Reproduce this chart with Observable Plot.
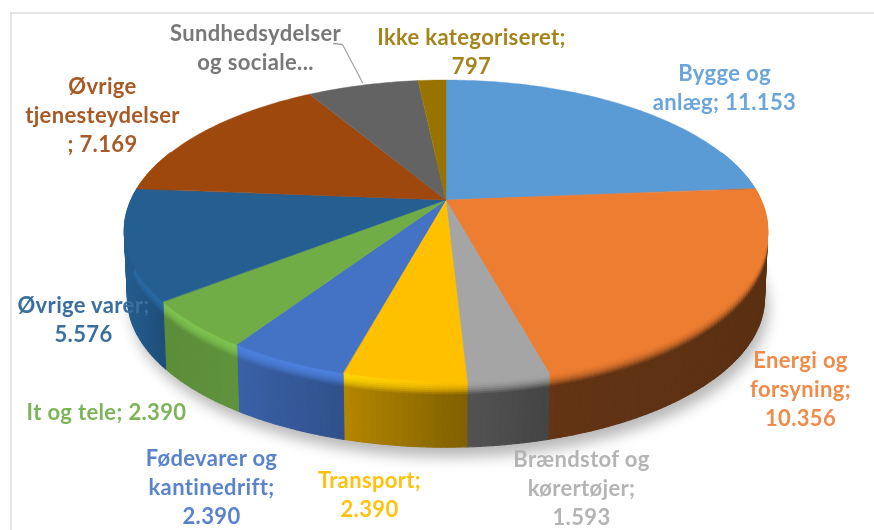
<!DOCTYPE html>
<html><head><meta charset="utf-8">
<style>
html,body{margin:0;padding:0;background:#fff;overflow:hidden}
svg{display:block}
.soft{filter:blur(7px)}
.pie{filter:blur(.6px)}
.labels{filter:blur(.45px);letter-spacing:.35px}
</style>
<script src="https://cdn.jsdelivr.net/npm/d3@7"></script>
<script src="https://cdn.jsdelivr.net/npm/@observablehq/plot@0.6"></script>
</head><body><div id="chart"></div>
<script>
// Data, clockwise from twelve o'clock
const categories = ["Bygge og anlæg","Energi og forsyning","Brændstof og kørertøjer","Transport","Fødevarer og kantinedrift","It og tele","Øvrige varer","Øvrige tjenesteydelser","Sundhedsydelser og sociale...","Ikke kategoriseret"];
const values = [11153,10356,1593,2390,2390,2390,5576,7169,3186,797];
const sliceColors = ["#5B9BD5","#ED7D31","#A5A5A5","#FFC000","#4472C4","#70AD47","#255E91","#9E480E","#636363","#997300"];
const labelTexts = ["Bygge og\nanlæg; 11.153","Energi og\nforsyning;\n10.356","Brændstof og\nkørertøjer;\n1.593","Transport;\n2.390","Fødevarer og\nkantinedrift;\n2.390","It og tele; 2.390","Øvrige varer;\n5.576","Øvrige\ntjenesteydelser\n; 7.169","Sundhedsydelser\nog sociale...","Ikke kategoriseret;\n797"];
const labelColors = ["#6BA5DA","#EF8B4B","#B4B4B4","#FFC20F","#5A83CC","#7DB45A","#3A6E9F","#A85A26","#787878","#A5841B"];

// Layout of the picture
const labelX = [724,800,581,369,211,106,83,102,255,471];
const labelY = [86,387,486,493,485,410,318,113,46,50];
const cx = 446, cy = 200, rx = 315, ry = 144.3, persp = -0.2026;
const drop = 68, shrink = 0.99;

const total = d3.sum(values);
const toRad = d => d * Math.PI / 180;
function rim(theta, t = 0) {
  const X = Math.sin(theta), Y = -Math.cos(theta), w = 1 + persp * Y;
  const s = 1 + (shrink - 1) * t;
  return [cx + s * rx * X / w, cy + drop * t + s * ry * Y / w];
}
let acc = 0;
const slices = values.map((v, i) => {
  const a0 = acc / total * 2 * Math.PI; acc += v;
  return {i, a0, a1: acc / total * 2 * Math.PI, color: sliceColors[i]};
});

// Shading of the wall, read along the picture's x
const shade = d3.scaleLinear([122,165,240,346,467,546,770],[1,.82,.85,.7,.5,.42,.38]).clamp(true);
const glow = d3.scaleLinear([340,450],[1.12,1]).clamp(true);
const scaleColor = (c, f) => { const r = d3.rgb(c); return d3.rgb(Math.min(255,r.r*f),Math.min(255,r.g*f),Math.min(255,r.b*f)); };
function wallColor(base, x, t) {
  const side = scaleColor(base, shade(x));
  if (t >= .2) return side.formatHex();
  const u = t / .2;
  return d3.rgb(d3.interpolateRgb(scaleColor(base, glow(x)), side)(u * u)).formatHex();
}

// Top face wedges and wall strips
const faceRows = [], wallRows = [], shadowRows = [];
const bands = [0,.03,.06,.09,.12,.15,.18,.21,1];
let id = 0;
for (const s of slices) {
  const n = Math.max(2, Math.ceil((s.a1 - s.a0) / toRad(1)));
  for (let k = 0; k <= n; k++) {
    const [x, y] = rim(s.a0 + (s.a1 - s.a0) * k / n);
    faceRows.push({z: s.i, x1: cx, y1: cy, x2: x, y2: y, fill: s.color});
  }
  const m = Math.max(1, Math.ceil((s.a1 - s.a0) / toRad(1)));
  for (let k = 0; k < m; k++) {
    const ta = s.a0 + (s.a1 - s.a0) * k / m, tb = s.a0 + (s.a1 - s.a0) * (k + 1) / m;
    if (Math.cos((ta + tb) / 2) > 0.35) continue;
    for (let b = 0; b < bands.length - 1; b++) {
      const t0 = bands[b], t1 = bands[b + 1];
      const c = wallColor(s.color, rim((ta + tb) / 2)[0], t0);
      id++;
      for (const th of [ta, tb]) {
        const [x1, y1] = rim(th, t0), [x2, y2] = rim(th, t1);
        wallRows.push({z: id, x1, y1, x2, y2, fill: c});
      }
    }
  }
}
for (let d = 0; d <= 360; d += 2) {
  const [x, y] = rim(toRad(d), 1);
  shadowRows.push({x1: cx, y1: cy + drop + 10, x2: x + 4, y2: y + 10});
}

const labelRows = labelTexts.map((text, i) => ({text, x: labelX[i], y: labelY[i], color: labelColors[i]}));

const chart = Plot.plot({
  width: 874, height: 530,
  margin: 0,
  x: {domain: [0, 874], range: [0, 874], axis: null},
  y: {domain: [0, 530], range: [0, 530], axis: null},
  color: {type: "identity"},
  style: {background: "#fff"},
  marks: [
    Plot.ruleY([12.5], {x1: 10, x2: 874, stroke: "#dcdcdc", strokeWidth: 1.5}),
    Plot.ruleX([10.5], {y1: 12, y2: 530, stroke: "#dcdcdc", strokeWidth: 1.5}),
    Plot.area(shadowRows, {x1: "x1", y1: "y1", x2: "x2", y2: "y2", fill: "#000", fillOpacity: .28, className: "soft"}),
    Plot.area(wallRows, {x1: "x1", y1: "y1", x2: "x2", y2: "y2", z: "z", fill: "fill", stroke: "fill", strokeWidth: 1.2, className: "pie"}),
    Plot.area(faceRows, {x1: "x1", y1: "y1", x2: "x2", y2: "y2", z: "z", fill: "fill", stroke: "fill", strokeWidth: .4, className: "pie"}),
    Plot.line([[333,43],[342,44],[362,82]], {stroke: "#a6a6a6", strokeWidth: 1.3, className: "pie"}),
    Plot.text(labelRows, {x: "x", y: "y", text: "text", fill: "color", fontFamily: "Lato", fontWeight: 700, fontSize: 22, lineHeight: 1.32, textAnchor: "middle", lineAnchor: "middle", className: "labels"})
  ]
});
document.getElementById("chart").appendChild(chart);
</script>
</body></html>
